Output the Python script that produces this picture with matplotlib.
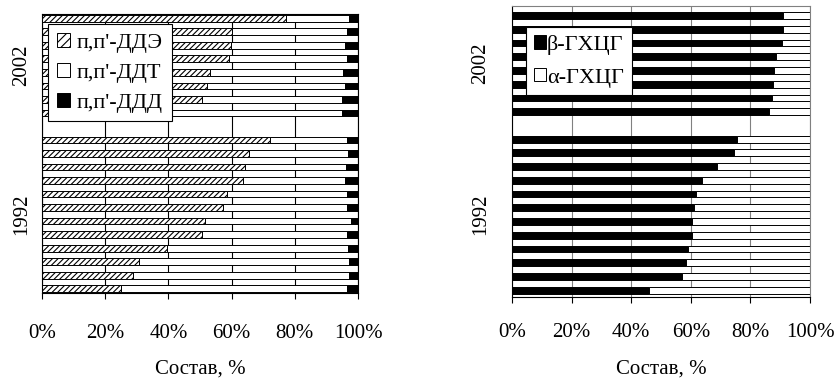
import matplotlib.pyplot as plt
from matplotlib.patches import Patch
from matplotlib.ticker import FuncFormatter
import numpy as np

plt.rcParams['font.family'] = ['Liberation Serif', 'DejaVu Serif']
plt.rcParams['hatch.linewidth'] = 0.8

# DDT group composition, % (rows listed top to bottom in each year block)
dde_2002 = [77.2, 60.0, 59.7, 59.3, 53.2, 52.1, 50.7, 35.0]
ddd_2002 = [3.0, 3.6, 4.1, 3.6, 4.7, 4.1, 5.0, 5.2]
dde_1992 = [72.2, 65.6, 64.2, 63.5, 58.4, 57.4, 51.6, 50.5, 39.7, 30.8, 28.9, 24.9]
ddd_1992 = [3.4, 3.1, 3.8, 4.1, 3.6, 3.6, 2.3, 3.6, 3.1, 2.8, 2.8, 3.6]

# HCH isomers, beta share %
beta_2002 = [91.0, 91.0, 90.5, 88.6, 88.0, 87.7, 87.4, 86.3]
beta_1992 = [75.6, 74.5, 68.7, 63.6, 61.7, 61.2, 60.5, 60.3, 59.2, 58.4, 57.1, 46.1]

years = ['2002', '1992']
ddt_labels = ["п,п'-ДДЭ", "п,п'-ДДТ", "п,п'-ДДД"]
hch_labels = ['β-ГХЦГ', 'α-ГХЦГ']
xticks = [0, 20, 40, 60, 80, 100]

# one empty row separates the two years
pos = np.r_[0:len(dde_2002), len(dde_2002) + 1:len(dde_2002) + 1 + len(dde_1992)]
year_centers = [(len(dde_2002) - 1) / 2, pos[len(dde_2002):].mean()]

dde = np.array(dde_2002 + dde_1992)
ddd = np.array(ddd_2002 + ddd_1992)
ddt = 100 - dde - ddd
beta = np.array(beta_2002 + beta_1992)
alpha = 100 - beta

fig = plt.figure(figsize=(8.4, 3.78), dpi=100)
ax1 = fig.add_axes([42 / 840, 1 - 293 / 378, 316 / 840, 279 / 378])
ax2 = fig.add_axes([512 / 840, 1 - 297 / 378, 298 / 840, 291 / 378])

h = 0.5
ax1.barh(pos, dde, height=h, color='white', edgecolor='black', hatch='//////', lw=0.7)
ax1.barh(pos, ddt, left=dde, height=h, color='white', edgecolor='black', lw=0.7)
ax1.barh(pos, ddd, left=dde + ddt, height=h, color='black', edgecolor='black', lw=0.7)

ax2.barh(pos, beta, height=h, color='black', edgecolor='black', lw=0.7)
ax2.barh(pos, alpha, left=beta, height=h, color='white', edgecolor='black', lw=0.7)

ax1.set_ylim(20.32, -0.32)
ax2.set_ylim(20.5, -0.7)

pct = FuncFormatter(lambda v, p: '%d%%' % v)
for ax, gcol, pad in [(ax1, 'black', 18), (ax2, '#808080', 15)]:
    ax.set_xlim(0, 100)
    ax.set_xticks(xticks)
    ax.xaxis.set_major_formatter(pct)
    ax.tick_params(axis='x', direction='out', length=4, width=0.8,
                   labelsize=15, pad=pad)
    ax.set_yticks(year_centers)
    ax.set_yticklabels(years, rotation=90, va='center', fontsize=15)
    ax.tick_params(axis='y', length=0)
    ax.grid(axis='x', color=gcol, lw=0.8)
    ax.set_axisbelow(True)
    ax.set_xlabel('Состав, %', fontsize=15, labelpad=12)
    for s in ax.spines.values():
        s.set_linewidth(0.8)

ax1.tick_params(axis='y', pad=8)
ax2.tick_params(axis='y', pad=16)
ax2.spines['top'].set_color('#808080')
ax2.spines['right'].set_color('#808080')

leg1 = ax1.legend(
    [Patch(facecolor='white', edgecolor='black', hatch='////', lw=0.7),
     Patch(facecolor='white', edgecolor='black', lw=0.7),
     Patch(facecolor='black', edgecolor='black', lw=0.7)],
    ddt_labels, loc='upper left', bbox_to_anchor=(48 / 840, 1 - 24 / 378),
    bbox_transform=fig.transFigure, fontsize=16, fancybox=False,
    edgecolor='black', framealpha=1, borderaxespad=0, borderpad=0.4,
    handlelength=0.6, handleheight=0.6, handletextpad=0.3, labelspacing=0.45)
leg1.get_frame().set_linewidth(0.8)

leg2 = ax2.legend(
    [Patch(facecolor='black', edgecolor='black', lw=0.7),
     Patch(facecolor='white', edgecolor='black', lw=0.7)],
    hch_labels, loc='upper left', bbox_to_anchor=(526 / 840, 1 - 27 / 378),
    bbox_transform=fig.transFigure, fontsize=16, fancybox=False,
    edgecolor='black', framealpha=1, borderaxespad=0, borderpad=0.35,
    handlelength=0.55, handleheight=0.55, handletextpad=0.05, labelspacing=0.6)
leg2.get_frame().set_linewidth(0.8)

fig.savefig('out.png', dpi=100)
